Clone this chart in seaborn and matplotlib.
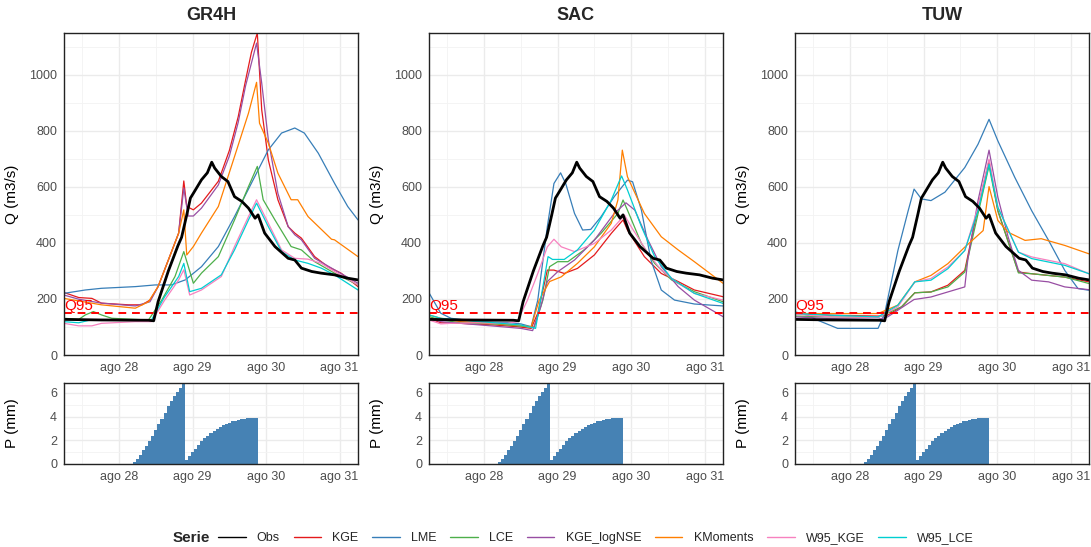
import numpy as np
import pandas as pd
import seaborn as sns
import matplotlib.pyplot as plt
from matplotlib.lines import Line2D
from matplotlib.ticker import MultipleLocator

# time is given as day of August (27.25 = ago 27 06:00)

# observed flow (same in every panel)
obs = [(27.25, 127), (27.76, 125), (28.40, 124), (28.47, 122), (28.53, 190), (28.67, 300),
       (28.80, 390), (28.85, 420), (28.92, 500), (28.97, 560), (29.01, 577), (29.12, 625),
       (29.20, 650), (29.26, 688), (29.30, 667), (29.39, 637), (29.48, 619), (29.57, 565),
       (29.67, 548), (29.76, 524), (29.85, 488), (29.89, 500), (29.98, 435), (30.12, 387),
       (30.30, 345), (30.39, 339), (30.48, 310), (30.62, 298), (30.75, 292), (30.93, 286),
       (31.11, 274), (31.25, 268)]

# GR4H
gr4h_kge = [(27.25, 223), (27.45, 205), (27.63, 202), (27.76, 185), (28.13, 179), (28.31, 179),
            (28.42, 196), (28.53, 244), (28.67, 339), (28.81, 435), (28.88, 621), (28.92, 530),
            (29.01, 518), (29.12, 542), (29.35, 620), (29.50, 730), (29.62, 850), (29.72, 980),
            (29.80, 1080), (29.88, 1149), (29.94, 875), (30.03, 696), (30.16, 554), (30.30, 458),
            (30.39, 435), (30.48, 417), (30.66, 351), (30.84, 315), (31.02, 292), (31.25, 244)]
gr4h_lme = [(27.25, 220), (27.54, 232), (27.76, 238), (28.22, 244), (28.49, 250), (28.71, 250),
            (28.90, 268), (29.12, 315), (29.35, 387), (29.57, 494), (29.80, 613), (30.03, 732),
            (30.21, 792), (30.39, 810), (30.52, 792), (30.71, 720), (30.93, 613), (31.11, 530),
            (31.25, 482)]
gr4h_lce = [(27.25, 131), (27.45, 127), (27.54, 143), (27.65, 155), (27.76, 143), (27.90, 131),
            (28.22, 127), (28.40, 125), (28.58, 196), (28.76, 280), (28.88, 369), (29.01, 256),
            (29.12, 292), (29.35, 351), (29.57, 482), (29.76, 601), (29.88, 673), (29.96, 554),
            (30.12, 482), (30.34, 387), (30.48, 375), (30.66, 333), (30.93, 292), (31.25, 250)]
gr4h_lognse = [(27.25, 214), (27.45, 199), (27.76, 185), (28.22, 175), (28.42, 190), (28.53, 244),
               (28.67, 339), (28.81, 435), (28.88, 595), (28.94, 496), (29.01, 496), (29.12, 524),
               (29.35, 607), (29.50, 710), (29.62, 830), (29.72, 960), (29.87, 1113), (29.94, 970),
               (30.03, 768), (30.16, 577), (30.30, 458), (30.39, 429), (30.48, 411), (30.66, 345),
               (30.93, 304), (31.25, 256)]
gr4h_kmom = [(27.25, 202), (27.76, 179), (28.22, 167), (28.40, 190), (28.53, 244), (28.67, 339),
             (28.81, 435), (28.88, 518), (28.92, 357), (29.01, 387), (29.12, 435), (29.35, 530),
             (29.57, 708), (29.76, 863), (29.87, 973), (29.91, 827), (30.03, 756), (30.16, 649),
             (30.34, 554), (30.43, 554), (30.57, 494), (30.89, 413), (30.93, 411), (31.25, 351)]
gr4h_w95kge = [(27.25, 113), (27.45, 104), (27.63, 104), (27.76, 113), (28.22, 119), (28.44, 119),
               (28.62, 196), (28.81, 268), (28.88, 304), (28.96, 214), (29.12, 232), (29.39, 280),
               (29.57, 387), (29.76, 494), (29.87, 554), (30.03, 470), (30.21, 375), (30.39, 345),
               (30.57, 342), (30.75, 327), (30.93, 298), (31.25, 250)]
gr4h_w95lce = [(27.25, 119), (27.45, 115), (27.61, 125), (28.44, 125), (28.62, 208), (28.81, 280),
               (28.88, 327), (28.96, 226), (29.12, 238), (29.39, 286), (29.57, 375), (29.76, 482),
               (29.87, 542), (30.03, 458), (30.21, 369), (30.39, 339), (30.57, 327), (30.75, 310),
               (30.93, 286), (31.25, 232)]

# SAC
sac_kge = [(27.25, 131), (27.41, 115), (27.68, 113), (28.14, 107), (28.45, 101), (28.64, 95),
           (28.73, 149), (28.86, 303), (28.95, 303), (29.09, 291), (29.27, 309), (29.50, 357),
           (29.73, 434), (29.89, 482), (29.95, 446), (30.18, 351), (30.41, 291), (30.64, 262),
           (30.86, 232), (31.25, 208)]
sac_lme = [(27.25, 222), (27.41, 149), (27.55, 131), (27.91, 119), (28.36, 115), (28.50, 111),
           (28.64, 101), (28.73, 196), (28.86, 458), (28.95, 612), (29.04, 650), (29.11, 612),
           (29.23, 505), (29.34, 446), (29.45, 448), (29.59, 493), (29.77, 565), (29.95, 624),
           (30.02, 618), (30.14, 517), (30.27, 339), (30.41, 232), (30.59, 196), (30.86, 182),
           (31.25, 175)]
sac_lce = [(27.25, 137), (27.41, 125), (27.68, 115), (28.14, 111), (28.50, 103), (28.68, 99),
           (28.80, 196), (28.89, 315), (29.00, 333), (29.14, 333), (29.36, 375), (29.59, 434),
           (29.82, 505), (29.89, 553), (29.95, 517), (30.14, 398), (30.32, 327), (30.55, 268),
           (30.86, 226), (31.25, 190)]
sac_lognse = [(27.25, 131), (27.41, 119), (27.68, 113), (28.14, 103), (28.50, 95), (28.66, 87),
              (28.77, 172), (28.86, 262), (29.00, 297), (29.23, 339), (29.50, 410), (29.77, 505),
              (29.93, 543), (30.05, 517), (30.23, 410), (30.41, 315), (30.64, 244), (30.86, 196),
              (31.25, 137)]
sac_kmom = [(27.25, 143), (27.41, 131), (27.68, 119), (28.14, 113), (28.45, 107), (28.64, 101),
            (28.75, 196), (28.89, 262), (29.05, 279), (29.27, 327), (29.50, 386), (29.73, 470),
            (29.82, 553), (29.88, 731), (29.95, 636), (30.18, 505), (30.41, 422), (30.64, 375),
            (30.86, 333), (31.25, 256)]
sac_w95kge = [(27.25, 125), (27.41, 111), (27.55, 113), (27.91, 115), (28.32, 113), (28.45, 119),
              (28.59, 196), (28.73, 291), (28.86, 386), (28.95, 413), (29.05, 386), (29.23, 369),
              (29.50, 398), (29.73, 446), (29.91, 499), (30.00, 458), (30.23, 363), (30.41, 303),
              (30.64, 256), (30.86, 220), (31.25, 196)]
sac_w95lce = [(27.25, 143), (27.41, 131), (27.68, 125), (28.14, 115), (28.50, 107), (28.70, 95),
              (28.80, 244), (28.87, 351), (28.93, 341), (29.09, 341), (29.27, 375), (29.50, 446),
              (29.73, 553), (29.87, 639), (29.95, 589), (30.14, 458), (30.32, 351), (30.55, 273),
              (30.86, 220), (31.25, 184)]

# TUW
tuw_kge = [(27.25, 148), (27.74, 142), (28.38, 139), (28.51, 142), (28.70, 172), (28.88, 222),
           (29.10, 225), (29.33, 249), (29.56, 302), (29.74, 527), (29.89, 693), (30.01, 515),
           (30.29, 296), (30.47, 290), (30.92, 278), (31.25, 261)]
tuw_lme = [(27.25, 154), (27.42, 142), (27.56, 124), (27.83, 95), (28.38, 95), (28.47, 148),
           (28.65, 373), (28.79, 515), (28.87, 592), (28.97, 557), (29.10, 551), (29.29, 581),
           (29.56, 669), (29.74, 752), (29.89, 841), (30.01, 764), (30.24, 634), (30.47, 515),
           (30.70, 409), (30.92, 302), (31.10, 237), (31.25, 231)]
tuw_lce = [(27.25, 139), (27.74, 136), (28.38, 134), (28.70, 172), (28.88, 222), (29.10, 225),
           (29.33, 243), (29.56, 296), (29.74, 504), (29.89, 675), (30.01, 515), (30.29, 293),
           (30.47, 290), (30.92, 278), (31.25, 255)]
tuw_lognse = [(27.25, 136), (27.74, 130), (28.38, 127), (28.51, 136), (28.65, 160), (28.87, 198),
              (29.10, 207), (29.33, 225), (29.56, 243), (29.60, 338), (29.74, 551), (29.89, 731),
              (30.01, 563), (30.15, 421), (30.29, 302), (30.47, 267), (30.70, 261), (30.92, 243),
              (31.25, 233)]
tuw_kmom = [(27.25, 148), (28.38, 148), (28.65, 178), (28.88, 261), (29.10, 284), (29.33, 326),
            (29.56, 385), (29.81, 444), (29.89, 601), (30.01, 480), (30.15, 438), (30.38, 409),
            (30.60, 415), (30.92, 391), (31.25, 361)]
tuw_w95kge = [(27.25, 146), (27.74, 136), (28.38, 134), (28.65, 172), (28.88, 261), (29.10, 273),
              (29.33, 314), (29.56, 373), (29.74, 527), (29.89, 699), (30.01, 527), (30.29, 367),
              (30.47, 350), (30.92, 326), (31.25, 290)]
tuw_w95lce = [(27.25, 148), (27.74, 142), (28.38, 136), (28.65, 178), (28.88, 261), (29.10, 267),
              (29.33, 308), (29.56, 373), (29.74, 515), (29.89, 681), (30.01, 527), (30.29, 367),
              (30.47, 344), (30.92, 320), (31.25, 290)]

# hourly precipitation, hours counted from ago 28 00:00
p_hour = list(range(5, 46))
p_mm = [0.17, 0.45, 0.8, 1.15, 1.5, 1.95, 2.4, 2.9, 3.35, 3.8, 4.3, 4.85, 5.35, 5.75, 6.1, 6.45, 6.83,
        0.31, 0.69, 0.97, 1.3, 1.6, 1.9, 2.17, 2.4, 2.6, 2.8, 2.97, 3.14, 3.26, 3.37, 3.49, 3.6,
        3.66, 3.71, 3.77, 3.83, 3.86, 3.87, 3.89, 3.89]

q95 = 150
series = ["Obs", "KGE", "LME", "LCE", "KGE_logNSE", "KMoments", "W95_KGE", "W95_LCE"]
colors = ["black", "#E41A1C", "#377EB8", "#4DAF4A", "#984EA3", "#FF7F00", "#F781BF", "#00CED1"]
pal = dict(zip(series, colors))

models = ["GR4H", "SAC", "TUW"]
runs = {
    "GR4H": [gr4h_kge, gr4h_lme, gr4h_lce, gr4h_lognse, gr4h_kmom, gr4h_w95kge, gr4h_w95lce],
    "SAC": [sac_kge, sac_lme, sac_lce, sac_lognse, sac_kmom, sac_w95kge, sac_w95lce],
    "TUW": [tuw_kge, tuw_lme, tuw_lce, tuw_lognse, tuw_kmom, tuw_w95kge, tuw_w95lce],
}

rows = []
for m in models:
    for name, pts in zip(series[1:], runs[m]):
        for d, q in pts:
            rows.append((m, name, d, q))
df = pd.DataFrame(rows, columns=["Modelo", "Serie", "dia", "Q"])
df_obs = pd.DataFrame(obs, columns=["dia", "Q"])
df_p = pd.DataFrame({"dia": 28 + np.array(p_hour) / 24, "P": p_mm})

sns.set_theme(style="whitegrid")
plt.rcParams['font.family'] = ['Liberation Sans', 'DejaVu Sans']

W, H = 1091, 547
fig = plt.figure(figsize=(W / 100, H / 100), dpi=100)
lefts = [64, 429, 795]
xmin, xmax = 27.25, 31.25
qmax = max(df["Q"].max(), df_obs["Q"].max())
days = [28, 29, 30, 31]


def style(ax):
    ax.set_facecolor("white")
    ax.set_xlim(xmin, xmax)
    ax.xaxis.set_major_locator(MultipleLocator(1))
    ax.xaxis.set_minor_locator(MultipleLocator(0.5))
    ax.set_xticks(days)
    ax.set_xticklabels([f"ago {d}" for d in days])
    ax.grid(which="major", color="#EBEBEB", linewidth=1.0)
    ax.grid(which="minor", color="#F3F3F3", linewidth=0.6)
    ax.set_axisbelow(True)
    for s in ax.spines.values():
        s.set_visible(True)
        s.set_color("#222222")
        s.set_linewidth(1.0)
    ax.tick_params(which="both", length=0, labelsize=9, labelcolor="#4D4D4D", pad=5)
    ax.set_xlabel("")


for i, m in enumerate(models):
    x0 = lefts[i]
    qa = fig.add_axes([x0 / W, 1 - 355 / H, 294 / W, 322 / H])
    pa = fig.add_axes([x0 / W, 1 - 464 / H, 294 / W, 81 / H])

    sns.lineplot(data=df[df["Modelo"] == m], x="dia", y="Q", hue="Serie",
                 hue_order=series[1:], palette=pal, estimator=None, sort=False,
                 linewidth=0.9, legend=False, ax=qa)
    qa.axhline(q95, color="#FF0000", linestyle=(0, (4, 3)), linewidth=1.4)
    sns.lineplot(data=df_obs, x="dia", y="Q", color="black", linewidth=2.0,
                 estimator=None, sort=False, ax=qa)
    qa.text(xmin, q95, "Q95", color="#FF0000", fontsize=11, ha="left", va="bottom")
    style(qa)
    qa.set_ylim(0, qmax)
    qa.yaxis.set_major_locator(MultipleLocator(200))
    qa.yaxis.set_minor_locator(MultipleLocator(100))
    qa.set_ylabel("Q (m3/s)", fontsize=11, color="black")
    qa.yaxis.set_label_coords(-0.153, 0.5)
    qa.set_title(m, fontsize=13, fontweight="bold", pad=9)

    pa.bar(df_p["dia"], df_p["P"], width=1 / 24, color="#4682B4", linewidth=0)
    style(pa)
    pa.set_ylim(0, df_p["P"].max())
    pa.yaxis.set_major_locator(MultipleLocator(2))
    pa.yaxis.set_minor_locator(MultipleLocator(1))
    pa.set_ylabel("P (mm)", fontsize=11, color="black")
    pa.yaxis.set_label_coords(-0.153, 0.5)

handles = [Line2D([0], [0], color=pal[s], linewidth=1.0) for s in series]
fig.legend(handles, series, loc="center left", bbox_to_anchor=(218 / W, 1 - 538 / H),
           ncol=8, frameon=False, fontsize=9, handlelength=2.2, handletextpad=0.9,
           columnspacing=1.1, borderpad=0, borderaxespad=0)
fig.text(173 / W, 1 - 538 / H, "Serie", fontsize=11, fontweight="bold", va="center", ha="left")

fig.savefig("out.png", dpi=100)
